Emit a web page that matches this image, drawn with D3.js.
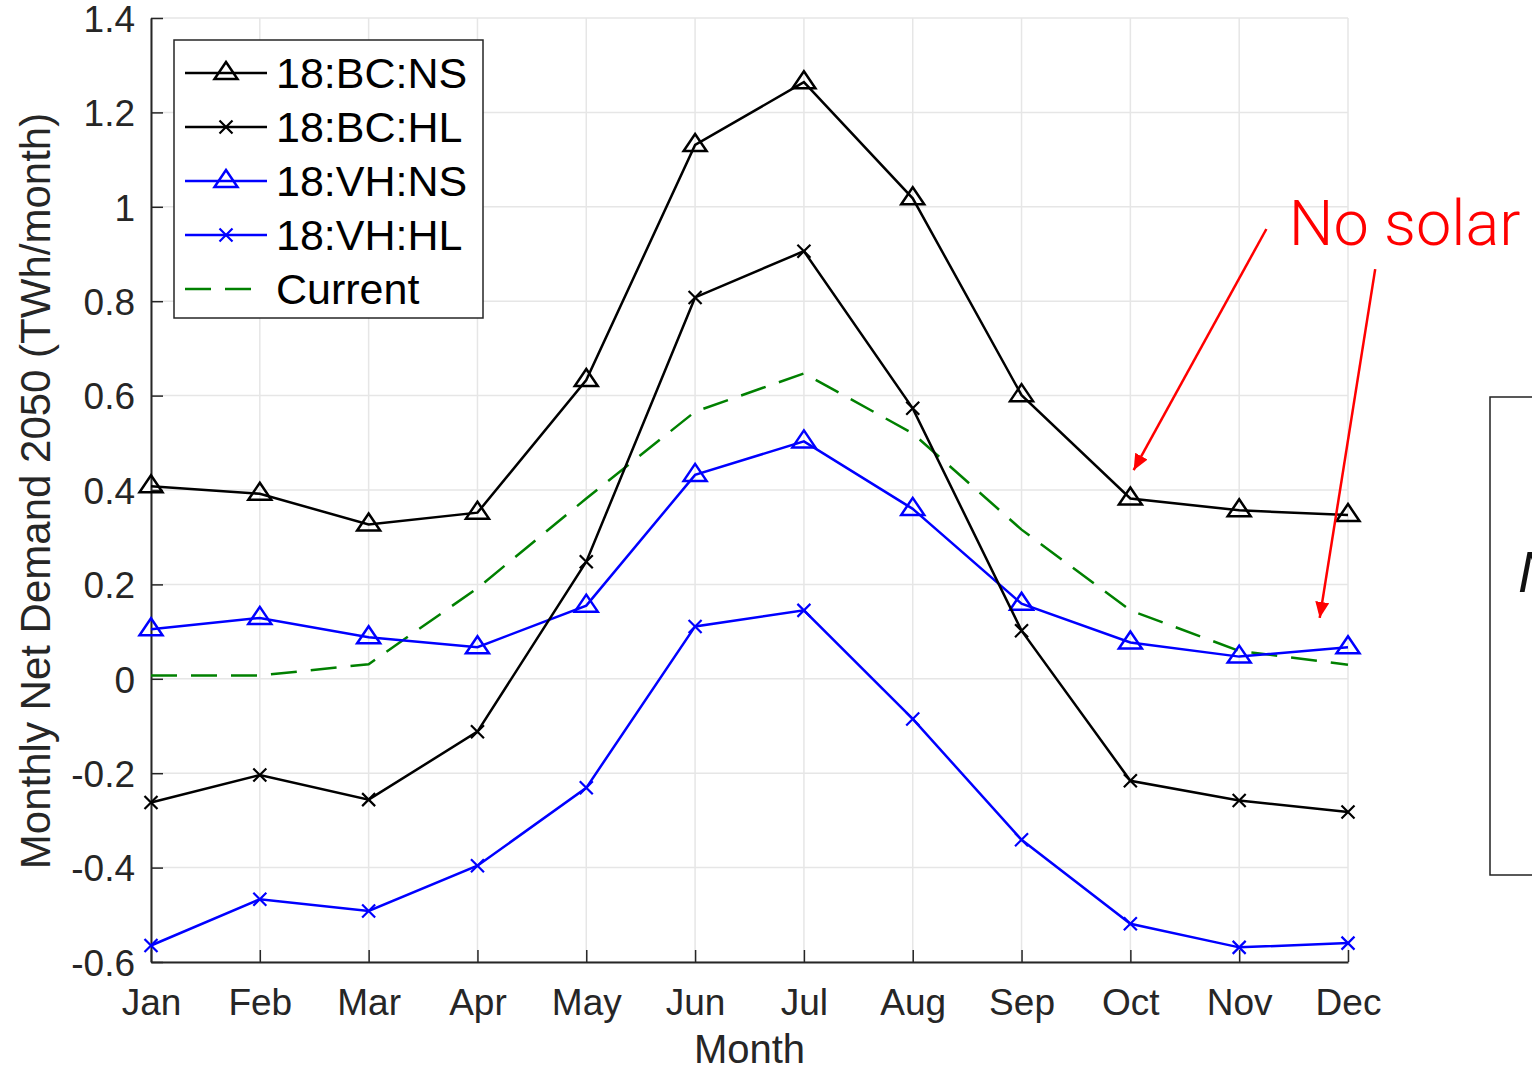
<!DOCTYPE html>
<html>
<head>
<meta charset="utf-8">
<script src="https://cdn.jsdelivr.net/npm/d3@7"></script>
<style>
  body { margin: 0; background: #fff; }
  svg { display: block; font-family: 'Liberation Sans', Arial, Helvetica, sans-serif; }
</style>
</head>
<body>
<svg id="chart" width="1532" height="1068"></svg>
<script>
// values (TWh/month)
var months = ['Jan','Feb','Mar','Apr','May','Jun','Jul','Aug','Sep','Oct','Nov','Dec'];
var bcNS = [0.408, 0.392, 0.327, 0.352, 0.633, 1.131, 1.264, 1.018, 0.601, 0.382, 0.357, 0.347];
var bcHL = [-0.262, -0.204, -0.256, -0.112, 0.248, 0.808, 0.906, 0.573, 0.102, -0.216, -0.258, -0.282];
var vhNS = [0.105, 0.129, 0.088, 0.067, 0.155, 0.432, 0.503, 0.360, 0.159, 0.077, 0.047, 0.067];
var vhHL = [-0.565, -0.467, -0.492, -0.396, -0.231, 0.111, 0.145, -0.085, -0.341, -0.519, -0.569, -0.560];
var current = [0.007, 0.007, 0.031, 0.192, 0.382, 0.566, 0.647, 0.520, 0.316, 0.145, 0.059, 0.030];
var yTicks = [-0.6, -0.4, -0.2, 0, 0.2, 0.4, 0.6, 0.8, 1, 1.2, 1.4];
var yTickLabels = ['-0.6', '-0.4', '-0.2', '0', '0.2', '0.4', '0.6', '0.8', '1', '1.2', '1.4'];
var seriesNames = ['18:BC:NS', '18:BC:HL', '18:VH:NS', '18:VH:HL', 'Current'];

var series = [
  {name: seriesNames[0], values: bcNS, color: '#000000', marker: 'tri', dash: null},
  {name: seriesNames[1], values: bcHL, color: '#000000', marker: 'x', dash: null},
  {name: seriesNames[2], values: vhNS, color: '#0000ff', marker: 'tri', dash: null},
  {name: seriesNames[3], values: vhHL, color: '#0000ff', marker: 'x', dash: null},
  {name: seriesNames[4], values: current, color: '#008000', marker: null, dash: '26,14'}
];

var svg = d3.select('#chart');
var axisColor = '#262626';

var x = d3.scaleLinear().domain([1, 12]).range([151, 1348]);
var y = d3.scaleLinear().domain([-0.6, 1.4]).range([962, 18]);

// grid
svg.append('g').selectAll('line.vgrid')
  .data(months)
  .join('line')
  .attr('class', 'vgrid')
  .attr('x1', (d, i) => x(i + 1)).attr('x2', (d, i) => x(i + 1))
  .attr('y1', y(1.4)).attr('y2', y(-0.6))
  .attr('stroke', '#e6e6e6').attr('stroke-width', 1.5);

svg.append('g').selectAll('line.hgrid')
  .data(yTicks)
  .join('line')
  .attr('class', 'hgrid')
  .attr('x1', x(1)).attr('x2', x(12))
  .attr('y1', d => y(d)).attr('y2', d => y(d))
  .attr('stroke', '#e6e6e6').attr('stroke-width', 1.5);

// axes (inward ticks, box off)
var yAxis = d3.axisLeft(y).tickValues(yTicks).tickSizeInner(-12).tickSizeOuter(0)
  .tickPadding(16).tickFormat((d, i) => yTickLabels[i]);
var gy = svg.append('g').attr('transform', 'translate(' + x(1) + ',0)').call(yAxis);

var xAxis = d3.axisBottom(x).tickValues(d3.range(1, 13)).tickSizeInner(-12).tickSizeOuter(0)
  .tickPadding(27).tickFormat(d => months[d - 1]);
var gx = svg.append('g').attr('transform', 'translate(0,' + y(-0.6) + ')').call(xAxis);

[gx, gy].forEach(function(g) {
  g.select('.domain').attr('stroke', axisColor).attr('stroke-width', 2);
  g.selectAll('.tick line').attr('stroke', axisColor).attr('stroke-width', 1.5);
  g.selectAll('.tick text').attr('fill', axisColor).style('font-size', '37px')
    .style('font-family', "'Liberation Sans', Arial, sans-serif");
});
gy.selectAll('.tick text').attr('dy', '0.36em');
gx.selectAll('.tick text').attr('dy', '0.71em');

svg.append('text')
  .attr('transform', 'translate(50,491) rotate(-90)')
  .attr('text-anchor', 'middle')
  .attr('fill', axisColor)
  .style('font-size', '42px')
  .text('Monthly Net Demand 2050 (TWh/month)');

svg.append('text')
  .attr('x', (x(1) + x(12)) / 2)
  .attr('y', 1063)
  .attr('text-anchor', 'middle')
  .attr('fill', axisColor)
  .style('font-size', '40px')
  .text('Month');

// markers
function drawMarker(g, type, cx, cy, color) {
  if (type === 'tri') {
    g.append('path')
      .attr('d', 'M' + cx + ',' + (cy - 11) + 'L' + (cx + 11.5) + ',' + (cy + 6) + 'L' + (cx - 11.5) + ',' + (cy + 6) + 'Z')
      .attr('fill', 'none').attr('stroke', color).attr('stroke-width', 2.5);
  } else if (type === 'x') {
    g.append('path')
      .attr('d', 'M' + (cx - 6.5) + ',' + (cy - 6.5) + 'L' + (cx + 6.5) + ',' + (cy + 6.5) +
                 'M' + (cx - 6.5) + ',' + (cy + 6.5) + 'L' + (cx + 6.5) + ',' + (cy - 6.5))
      .attr('fill', 'none').attr('stroke', color).attr('stroke-width', 2.2);
  }
}

var line = d3.line().x((d, i) => x(i + 1)).y(d => y(d));

var plot = svg.append('g');
series.slice().reverse().forEach(function(s) {
  var g = plot.append('g');
  g.append('path')
    .datum(s.values)
    .attr('d', line)
    .attr('fill', 'none')
    .attr('stroke', s.color)
    .attr('stroke-width', 2.5)
    .attr('stroke-dasharray', s.dash);
  if (s.marker) {
    s.values.forEach(function(v, i) { drawMarker(g, s.marker, x(i + 1), y(v), s.color); });
  }
});

// legend
var legend = svg.append('g');
legend.append('rect')
  .attr('x', 174).attr('y', 40).attr('width', 309).attr('height', 278)
  .attr('fill', '#fff').attr('stroke', axisColor).attr('stroke-width', 1.5);
series.forEach(function(s, i) {
  var ly = 73 + i * 54;
  legend.append('line')
    .attr('x1', 185).attr('x2', s.dash ? 257 : 267)
    .attr('y1', ly).attr('y2', ly)
    .attr('stroke', s.color).attr('stroke-width', 2.5)
    .attr('stroke-dasharray', s.dash);
  if (s.marker) drawMarker(legend, s.marker, 226, ly, s.color);
  legend.append('text')
    .attr('x', 276).attr('y', ly + 15)
    .attr('fill', '#000')
    .style('font-size', '43px')
    .text(s.name);
});

// annotation
var red = '#ff0000';
var defs = svg.append('defs');
defs.append('marker')
  .attr('id', 'arrowhead')
  .attr('viewBox', '0 0 16 14')
  .attr('refX', 16).attr('refY', 7)
  .attr('markerWidth', 16).attr('markerHeight', 14)
  .attr('markerUnits', 'userSpaceOnUse')
  .attr('orient', 'auto')
  .append('path')
  .attr('d', 'M0,0L16,7L0,14Z')
  .attr('fill', red);

var arrows = [
  {from: [11.25, 0.953], to: [10.03, 0.442]},
  {from: [12.25, 0.868], to: [11.74, 0.129]}
];
svg.append('g').selectAll('line.arrow')
  .data(arrows)
  .join('line')
  .attr('class', 'arrow')
  .attr('x1', d => x(d.from[0])).attr('y1', d => y(d.from[1]))
  .attr('x2', d => x(d.to[0])).attr('y2', d => y(d.to[1]))
  .attr('stroke', red).attr('stroke-width', 2.5)
  .attr('marker-end', 'url(#arrowhead)');

svg.append('text')
  .attr('x', x(11.455)).attr('y', y(0.92))
  .attr('fill', red)
  .style('font-family', "Roboto, 'Liberation Sans', sans-serif")
  .style('font-weight', 300)
  .style('font-size', '63px')
  .text('No solar');

// partial panel cut by the right edge
svg.append('rect')
  .attr('x', 1490).attr('y', 397).attr('width', 120).attr('height', 478)
  .attr('fill', 'none').attr('stroke', '#222').attr('stroke-width', 1.5);
svg.append('text')
  .attr('x', 1518).attr('y', 592)
  .attr('fill', '#111')
  .style('font-style', 'italic')
  .style('font-size', '58px')
  .text('N');
</script>
</body>
</html>
